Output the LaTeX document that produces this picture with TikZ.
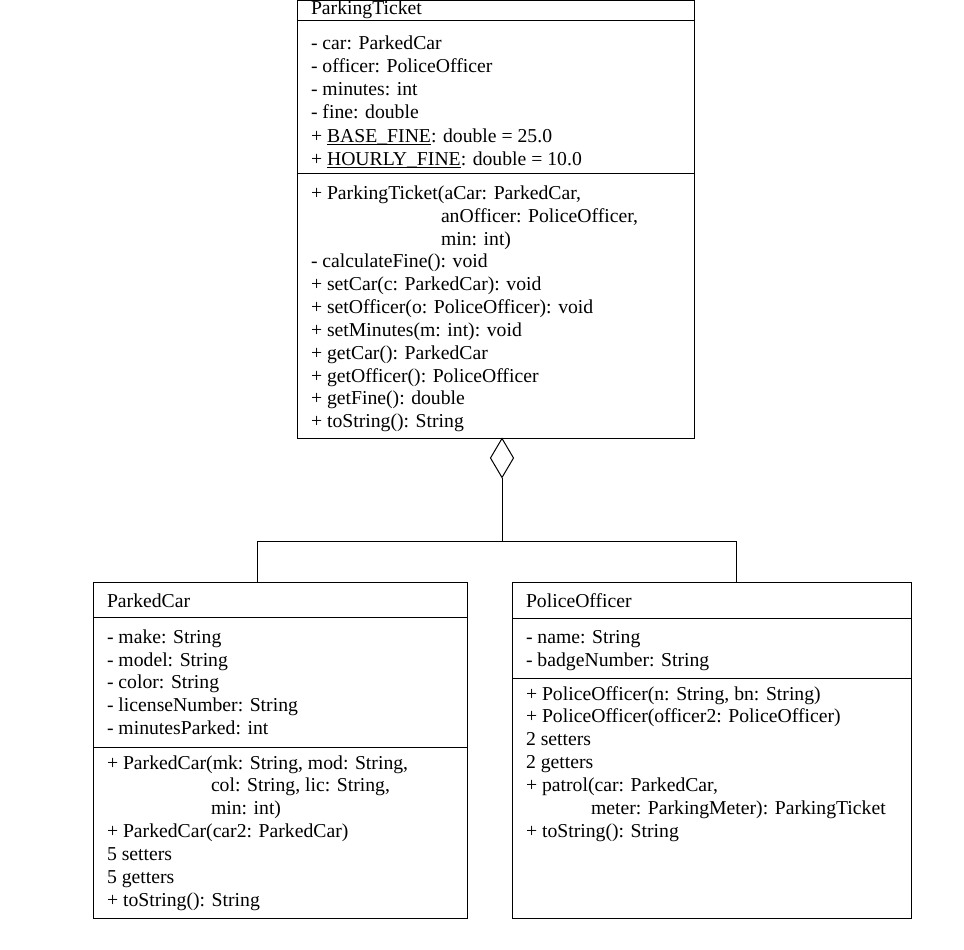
\documentclass[tikz,border=0pt]{standalone}
\usepackage{fontspec}
\setmainfont[Ligatures=NoCommon]{Liberation Serif}
\usetikzlibrary{shapes.geometric}
\newcommand\ulin[1]{\setbox0\hbox{#1}\rlap{\rule[-3pt]{\wd0}{1.4pt}}\box0}
\begin{document}
\begin{tikzpicture}[x=1pt,y=-1pt,
  box/.style={draw, line width=1pt, rectangle, inner sep=0pt, outer sep=0pt, anchor=north west},
  txt/.style={anchor=base west, inner sep=0pt, outer sep=0pt, font=\fontsize{19.7}{23}\selectfont},
  sepline/.style={line width=1pt},
  conn/.style={line width=1pt}]
\useasboundingbox (0,0) rectangle (964,950);

% ---------- ParkingTicket ----------
\node[box, minimum width=397pt, minimum height=438pt] (pt) at (297,0.5) {};
\draw[sepline] (pt.west |- 0,20.5) -- (pt.east |- 0,20.5);
\draw[sepline] (pt.west |- 0,173.5) -- (pt.east |- 0,173.5);
\node[txt] (ptname) at (311,15) {ParkingTicket};
\foreach \t [count=\i from 0] in {{- car: ParkedCar},{- officer: PoliceOfficer},{- minutes: int},{- fine: double},{+ \ulin{BASE\_FINE}: double = 25.0},{+ \ulin{HOURLY\_FINE}: double = 10.0}}
  \node[txt] (pta\i) at (311,49.3+23.2*\i) {\t};
\foreach \t [count=\i from 0] in {{+ ParkingTicket(aCar: ParkedCar,},{\hspace*{130pt}anOfficer: PoliceOfficer,},{\hspace*{130pt}min: int)},{- calculateFine(): void},{+ setCar(c: ParkedCar): void},{+ setOfficer(o: PoliceOfficer): void},{+ setMinutes(m: int): void},{+ getCar(): ParkedCar},{+ getOfficer(): PoliceOfficer},{+ getFine(): double},{+ toString(): String}}
  \node[txt] (ptm\i) at (311,199.3+22.85*\i) {\t};

% ---------- ParkedCar ----------
\node[box, minimum width=374pt, minimum height=336pt] (pc) at (93,582) {};
\draw[sepline] (pc.west |- 0,617) -- (pc.east |- 0,617);
\draw[sepline] (pc.west |- 0,747) -- (pc.east |- 0,747);
\node[txt] (pcname) at (107,607.3) {ParkedCar};
\foreach \t [count=\i from 0] in {{- make: String},{- model: String},{- color: String},{- licenseNumber: String},{- minutesParked: int}}
  \node[txt] (pca\i) at (107,643.3+22.75*\i) {\t};
\foreach \t [count=\i from 0] in {{+ ParkedCar(mk: String, mod: String,},{\hspace*{104pt}col: String, lic: String,},{\hspace*{104pt}min: int)},{+ ParkedCar(car2: ParkedCar)},{5 setters},{5 getters},{+ toString(): String}}
  \node[txt] (pcm\i) at (107,769+22.95*\i) {\t};

% ---------- PoliceOfficer ----------
\node[box, minimum width=399pt, minimum height=336pt] (po) at (512,582) {};
\draw[sepline] (po.west |- 0,618) -- (po.east |- 0,618);
\draw[sepline] (po.west |- 0,678) -- (po.east |- 0,678);
\node[txt] (poname) at (526,607.3) {PoliceOfficer};
\foreach \t [count=\i from 0] in {{- name: String},{- badgeNumber: String}}
  \node[txt] (poa\i) at (526,643.3+22.75*\i) {\t};
\foreach \t [count=\i from 0] in {{+ PoliceOfficer(n: String, bn: String)},{+ PoliceOfficer(officer2: PoliceOfficer)},{2 setters},{2 getters},{+ patrol(car: ParkedCar,},{\hspace*{65pt}meter: ParkingMeter): ParkingTicket},{+ toString(): String}}
  \node[txt] (pom\i) at (526,700+22.95*\i) {\t};

% ---------- Aggregation ----------
\node[draw, diamond, line width=1pt, inner sep=0pt, outer sep=0pt, minimum width=23pt, minimum height=39pt, anchor=north] (agg) at (502,438.5) {};
\coordinate (j) at (502,541);
\coordinate (jl) at (257,541);
\coordinate (jr) at (736,541);
\draw[conn] (agg.south) -- (j);
\draw[conn] (jl) -- (jr);
\draw[conn] (jl) -- (jl |- pc.north);
\draw[conn] (jr) -- (jr |- po.north);
\end{tikzpicture}
\end{document}
